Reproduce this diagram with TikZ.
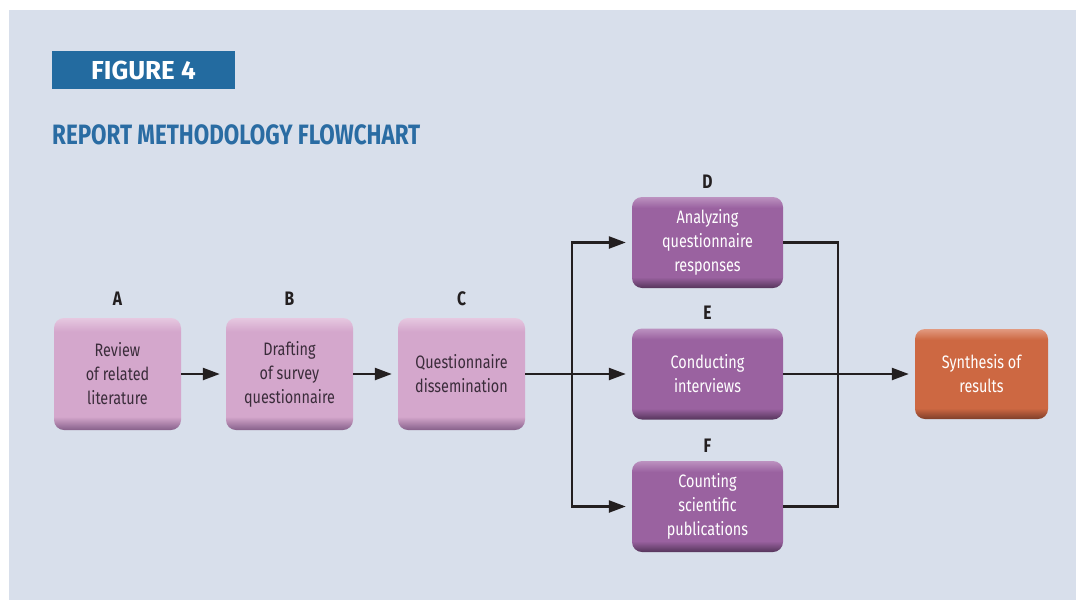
\documentclass[tikz,border=0pt]{standalone}
\usepackage{fontspec}
\setmainfont{Fira Sans}[FakeStretch=0.80]
\newfontfamily\headfont{Fira Sans}
\usetikzlibrary{arrows.meta}

\definecolor{pagebg}{HTML}{D8DFEB}
\definecolor{figblue}{HTML}{236BA0}
\definecolor{titleblue}{HTML}{2A6CA3}
\definecolor{inkdark}{HTML}{231F20}
\definecolor{boxtext}{HTML}{3A2C3A}

\definecolor{pinkdark}{HTML}{86608A}
\definecolor{pinkbase}{HTML}{D4A7CC}
\definecolor{pinklight}{HTML}{E6C8E0}
\definecolor{purpledark}{HTML}{55355B}
\definecolor{purplebase}{HTML}{9A62A0}
\definecolor{purplelight}{HTML}{BC92C0}
\definecolor{orangedark}{HTML}{7E3E2A}
\definecolor{orangebase}{HTML}{CD6842}
\definecolor{orangelight}{HTML}{E29A80}

% bevelled vertical fills: dark bottom edge, flat body, light top edge
\pgfdeclareverticalshading{bevelpink}{100bp}{%
  color(0bp)=(pinkdark); color(25bp)=(pinkdark);
  color(31bp)=(pinkbase); color(69bp)=(pinkbase);
  color(75bp)=(pinklight); color(100bp)=(pinklight)}
\pgfdeclareverticalshading{bevelpurple}{100bp}{%
  color(0bp)=(purpledark); color(25bp)=(purpledark);
  color(31bp)=(purplebase); color(69bp)=(purplebase);
  color(75bp)=(purplelight); color(100bp)=(purplelight)}
\pgfdeclareverticalshading{bevelorange}{100bp}{%
  color(0bp)=(orangedark); color(25bp)=(orangedark);
  color(31bp)=(orangebase); color(69bp)=(orangebase);
  color(75bp)=(orangelight); color(100bp)=(orangelight)}

\tikzset{
  stepbase/.style={rectangle, rounded corners=10pt, align=center,
    font=\fontsize{18}{24}\selectfont, inner sep=0pt},
  pinkbox/.style={stepbase, shading=bevelpink, text=boxtext,
    minimum width=127pt, minimum height=112pt},
  purplebox/.style={stepbase, shading=bevelpurple, text=white,
    minimum width=151pt, minimum height=91pt},
  orangebox/.style={stepbase, shading=bevelorange, text=white,
    minimum width=133pt, minimum height=90pt},
  letter/.style={font=\fontsize{19.5}{20}\selectfont\bfseries, text=inkdark, inner sep=0pt},
  flow/.style={line width=2.4pt, draw=inkdark},
  flowarrow/.style={flow, -{Triangle[length=17pt,width=12pt]}, shorten >=6pt}
}

\begin{document}
\begin{tikzpicture}[x=1pt, y=-1pt]
  \useasboundingbox (0,0) rectangle (1076,600);
  \fill[pagebg] (9,10) rectangle (1076,600);

  % heading
  \node[fill=figblue, text=white, minimum width=183pt, minimum height=38pt,
        inner sep=0pt, font=\headfont\fontsize{26}{26}\selectfont\bfseries]
        (fig) at (143.5,70) {FIGURE 4};
  \node[anchor=base west, inner sep=0pt, text=titleblue,
        font=\fontsize{28}{28}\selectfont\bfseries]
        (title) at (52,144) {REPORT METHODOLOGY FLOWCHART};

  % process steps
  \node[pinkbox] (A) at (117.5,374) {Review\\of related\\literature};
  \node[pinkbox] (B) at (289.5,374) {Drafting\\of survey\\questionnaire};
  \node[pinkbox] (C) at (461.5,374) {Questionnaire\\dissemination};
  \node[purplebox] (D) at (707.5,242.5) {Analyzing\\questionnaire\\responses};
  \node[purplebox] (E) at (707.5,374) {Conducting\\interviews};
  \node[purplebox] (F) at (707.5,506.5) {Counting\\scientific\\publications};
  \node[orangebox] (S) at (981.5,374) {Synthesis of\\results};

  % step letters
  \node[letter] (la) at (117.5,299) {A};
  \node[letter] (lb) at (289.5,299) {B};
  \node[letter] (lc) at (461.5,299) {C};
  \node[letter] (ld) at (707.5,182) {D};
  \node[letter] (le) at (707.5,313) {E};
  \node[letter] (lf) at (707.5,446) {F};

  % branch and merge points
  \coordinate (split) at (572,374);
  \coordinate (merge) at (838,374);

  % connectors
  \draw[flowarrow] (A.east) -- (B.west);
  \draw[flowarrow] (B.east) -- (C.west);
  \draw[flowarrow] (C.east) -- (E.west);
  \draw[flowarrow] (split) |- (D.west);
  \draw[flowarrow] (split) |- (F.west);
  \draw[flow] (D.east) -| (merge);
  \draw[flow] (F.east) -| (merge);
  \draw[flowarrow] (E.east) -- (S.west);
\end{tikzpicture}
\end{document}
